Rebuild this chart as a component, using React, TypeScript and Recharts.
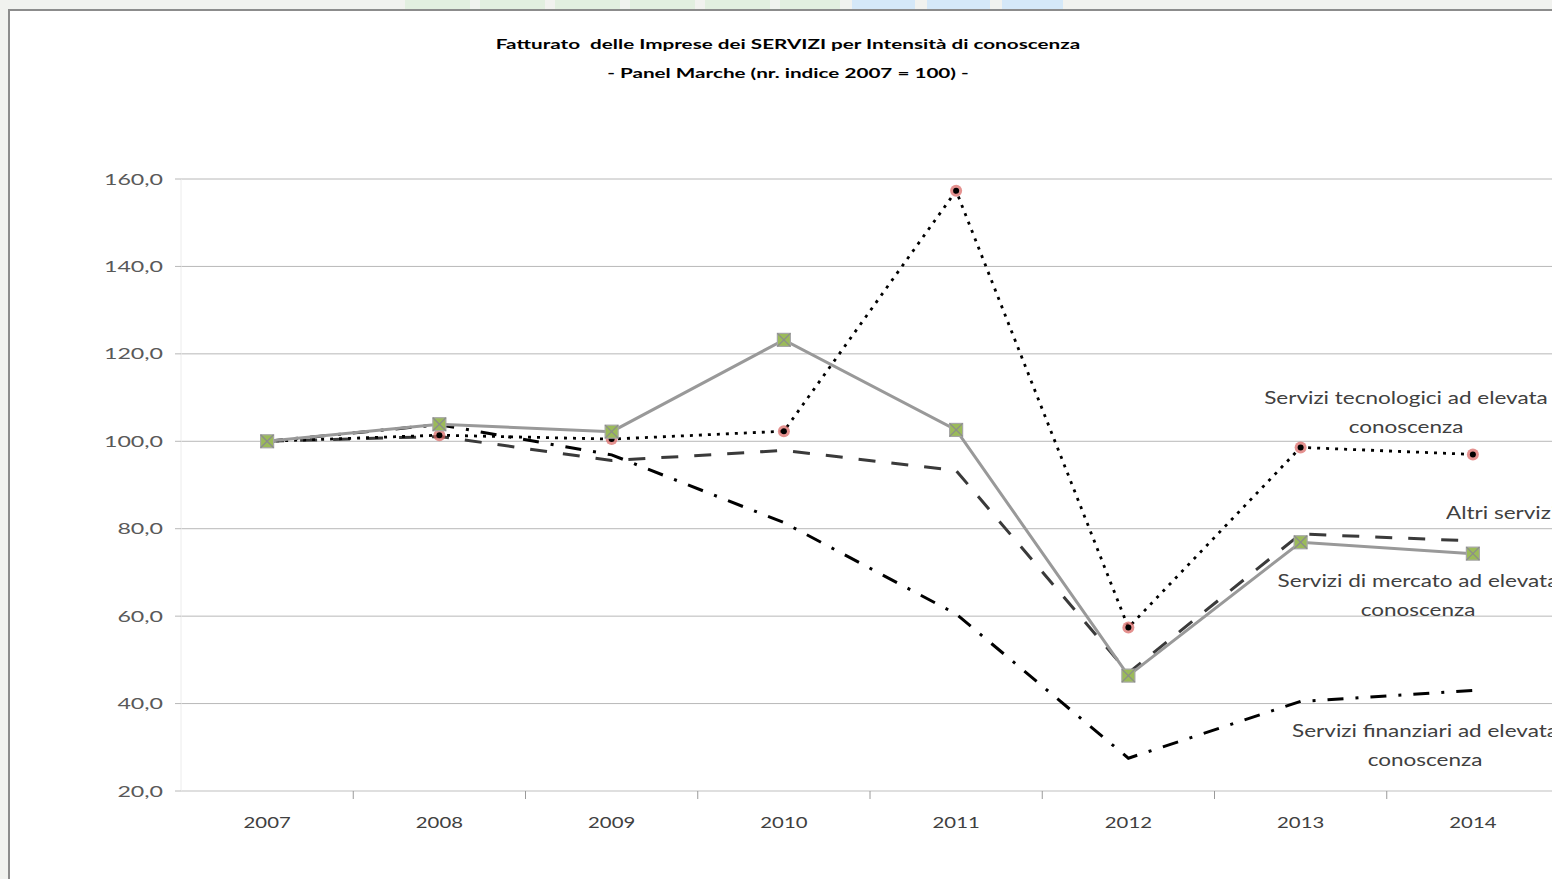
import React from "react";
import { CartesianGrid, Line, LineChart, XAxis, YAxis } from "recharts";

// values (index 2007 = 100)
const years = ["2007", "2008", "2009", "2010", "2011", "2012", "2013", "2014"];
const tecnologici = [100, 101.4, 100.5, 102.3, 157.3, 57.4, 98.6, 97.0];
const altri = [100, 101.1, 95.6, 97.9, 93.3, 47.0, 78.8, 77.2];
const mercato = [100, 103.9, 102.2, 123.2, 102.6, 46.4, 76.9, 74.3];
const finanziari = [100, 103.8, 96.9, 81.4, 60.5, 27.5, 40.5, 43.0];
const yTicks = [20, 40, 60, 80, 100, 120, 140, 160];

const data = years.map((year, i) => ({
  i,
  year,
  tecnologici: tecnologici[i],
  altri: altri[i],
  mercato: mercato[i],
  finanziari: finanziari[i],
}));

// year labels on whole steps, small tick marks between the years
const xTicks = years.flatMap((_, i) => (i < years.length - 1 ? [i, i + 0.5] : [i]));

const XTick = (props: any) => {
  const { x, y, payload } = props;
  const v = payload.value;
  if (Number.isInteger(v)) {
    return (
      <text
        transform={`translate(${x},${y + 37}) scale(1.27,1)`}
        textAnchor="middle"
        fontSize={16}
        fill="#404040"
      >
        {years[v]}
      </text>
    );
  }
  return <line x1={x} x2={x} y1={y} y2={y + 8} stroke="#9a9a9a" />;
};

const YTick = (props: any) => {
  const { x, y, payload } = props;
  return (
    <text
      transform={`translate(${x},${y + 5.5}) scale(1.45,1)`}
      textAnchor="end"
      fontSize={16}
      fill="#595959"
    >
      {Number(payload.value).toFixed(1).replace(".", ",")}
    </text>
  );
};

const RedDot = (props: any) => {
  const { cx, cy, index } = props;
  return (
    <g key={`t-${index}`}>
      <circle cx={cx} cy={cy} r={6} fill="#d9625f" opacity={0.7} />
      <circle cx={cx} cy={cy} r={3} fill="#000" />
    </g>
  );
};

const GreenSquare = (props: any) => {
  const { cx, cy, index } = props;
  const h = 6.5;
  return (
    <g key={`m-${index}`}>
      <rect x={cx - h} y={cy - h} width={h * 2} height={h * 2} fill="#9bbb59" stroke="#a6a6a6" strokeWidth={1.2} />
      <line x1={cx - h} y1={cy - h} x2={cx + h} y2={cy + h} stroke="#8c8c8c" strokeWidth={1.2} />
      <line x1={cx - h} y1={cy + h} x2={cx + h} y2={cy - h} stroke="#8c8c8c" strokeWidth={1.2} />
    </g>
  );
};

const stripBoxes = [
  { left: 405, width: 65, color: "#e2efe0" },
  { left: 480, width: 65, color: "#e2efe0" },
  { left: 555, width: 65, color: "#e2efe0" },
  { left: 630, width: 65, color: "#e2efe0" },
  { left: 705, width: 65, color: "#e2efe0" },
  { left: 780, width: 60, color: "#e2efe0" },
  { left: 852, width: 63, color: "#d5e8f8" },
  { left: 927, width: 63, color: "#d5e8f8" },
  { left: 1002, width: 61, color: "#d5e8f8" },
];

const labelStyle = (cx: number, top: number): React.CSSProperties => ({
  position: "absolute",
  left: cx,
  top,
  transform: "translateX(-50%) scaleX(1.25)",
  whiteSpace: "nowrap",
  textAlign: "center",
  fontSize: 18,
  lineHeight: "29px",
  color: "#404040",
});

export default function App() {
  return (
    <div
      style={{
        position: "fixed",
        left: 0,
        top: 0,
        width: 1552,
        height: 879,
        background: "#f1f2ef",
        overflow: "hidden",
        fontFamily: "Lato, sans-serif",
      }}
    >
      {stripBoxes.map((b, k) => (
        <div
          key={k}
          style={{ position: "absolute", left: b.left, top: 0, width: b.width, height: 9, background: b.color }}
        />
      ))}
      <div
        style={{
          position: "absolute",
          left: 8,
          top: 9,
          width: 1560,
          height: 880,
          background: "#fff",
          borderTop: "2px solid #8c8c8c",
          borderLeft: "2px solid #8c8c8c",
        }}
      />
      <div style={{ position: "absolute", left: 0, top: 0 }}>
        <LineChart width={1570} height={879} data={data} margin={{ top: 179, right: 11, bottom: 48, left: 81 }}>
          <CartesianGrid vertical={false} stroke="#b8b8b8" />
          <XAxis
            dataKey="i"
            type="number"
            domain={[-0.5, 7.5]}
            ticks={xTicks}
            interval={0}
            height={40}
            tickSize={0}
            tickMargin={0}
            tickLine={false}
            axisLine={{ stroke: "#e3e3e3" }}
            tick={<XTick />}
          />
          <YAxis
            type="number"
            domain={[20, 160]}
            ticks={yTicks}
            width={100}
            tickSize={6}
            tickMargin={12}
            tickLine={{ stroke: "#b8b8b8" }}
            axisLine={{ stroke: "#ececec" }}
            tick={<YTick />}
          />
          <Line
            dataKey="finanziari"
            stroke="#000"
            strokeWidth={3}
            strokeDasharray="16 12 3 12"
            dot={false}
            isAnimationActive={false}
          />
          <Line
            dataKey="altri"
            stroke="#3a3a3a"
            strokeWidth={3}
            strokeDasharray="17 16"
            dot={false}
            isAnimationActive={false}
          />
          <Line
            dataKey="tecnologici"
            stroke="#000"
            strokeWidth={2.8}
            strokeDasharray="3 6"
            dot={RedDot}
            isAnimationActive={false}
          />
          <Line
            dataKey="mercato"
            stroke="#999999"
            strokeWidth={3}
            dot={GreenSquare}
            isAnimationActive={false}
          />
        </LineChart>
      </div>

      <div
        style={{
          position: "absolute",
          left: 788,
          top: 30,
          transform: "translateX(-50%) scaleX(1.59)",
          whiteSpace: "nowrap",
          textAlign: "center",
          fontSize: 13,
          fontWeight: 700,
          lineHeight: "29px",
          color: "#000",
        }}
      >
        Fatturato&nbsp; delle Imprese dei SERVIZI per Intensità di conoscenza
        <br />- Panel Marche (nr. indice 2007 = 100) -
      </div>

      <div style={labelStyle(1406, 383)}>
        Servizi tecnologici ad elevata
        <br />
        conoscenza
      </div>
      <div
        style={{
          position: "absolute",
          left: 1446,
          top: 498,
          transform: "scaleX(1.25)",
          transformOrigin: "left center",
          whiteSpace: "nowrap",
          fontSize: 18,
          lineHeight: "29px",
          color: "#404040",
        }}
      >
        Altri servizi
      </div>
      <div style={labelStyle(1418, 566)}>
        Servizi di mercato ad elevata
        <br />
        conoscenza
      </div>
      <div style={labelStyle(1425, 716)}>
        Servizi finanziari ad elevata
        <br />
        conoscenza
      </div>
    </div>
  );
}
